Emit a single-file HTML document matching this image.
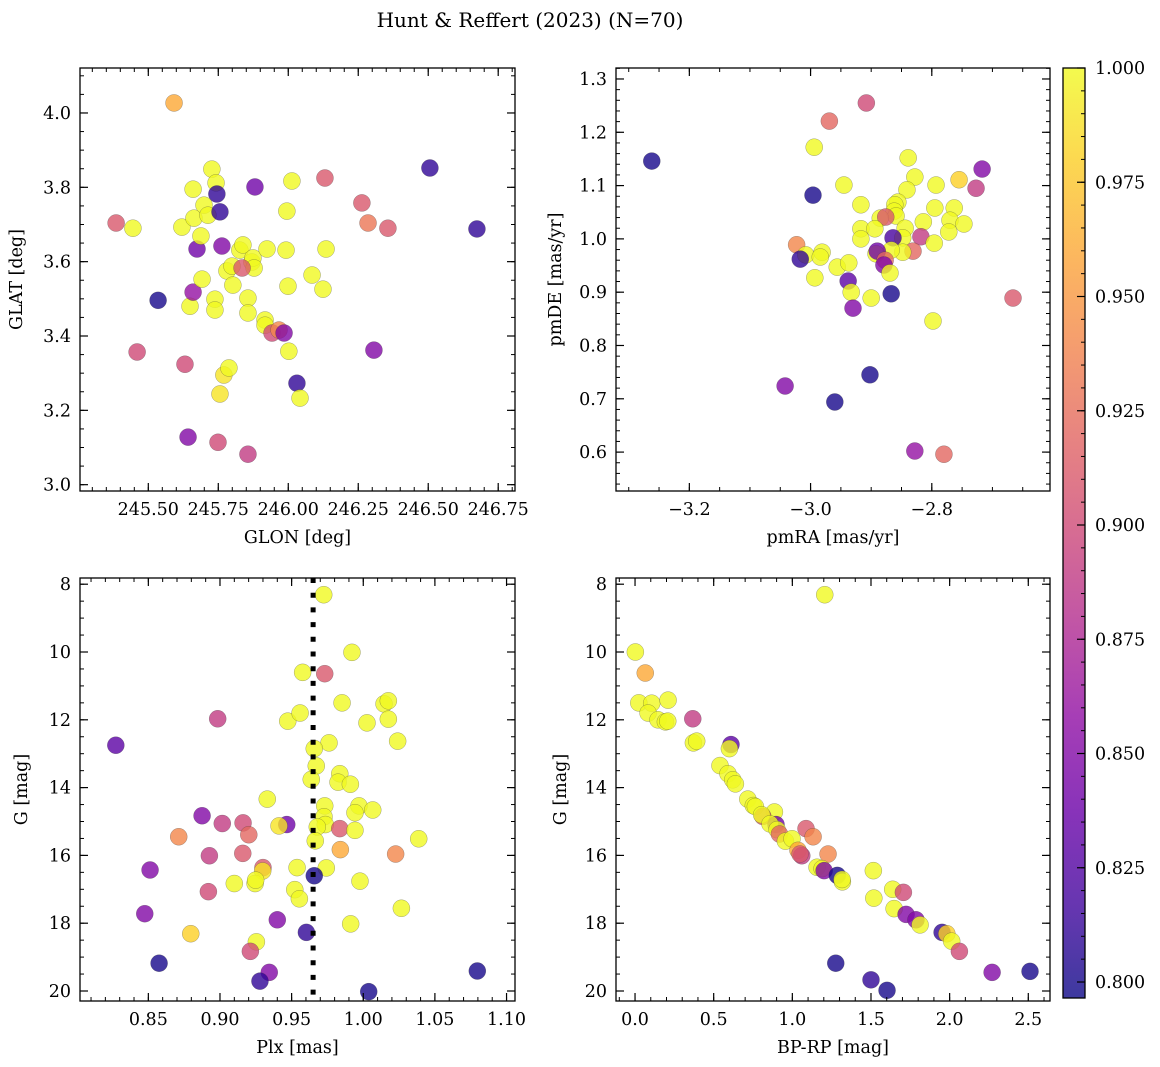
<!DOCTYPE html>
<html><head><meta charset="utf-8"><style>
html,body{margin:0;padding:0;background:#fff;}
svg{display:block;font-family:"DejaVu Serif","Liberation Serif",serif;}
</style></head><body>
<svg id="fig" xmlns="http://www.w3.org/2000/svg" width="1160" height="1067" viewBox="0 0 1160 1067">
<text x="530" y="27" font-size="20" text-anchor="middle">Hunt &amp; Reffert (2023) (N=70)</text>
</svg>
<script>
// ---- Panel 1: GLON / GLAT ----
const glonA=[245.385,245.445,245.460,245.535,245.592,245.620,245.631,245.642,245.649,245.660,245.663,245.660,245.674,245.688,245.692,245.699,245.713,245.727,245.738,245.738,245.742,245.745,245.756,245.756,245.763,245.749,245.770,245.788,245.781,245.799,245.802,245.827,245.838,245.856,245.856,245.856,245.870,245.874,245.878,245.881,245.835,245.917,245.917,245.924,245.942,245.967,245.985,245.992,245.995,245.999,246.002,246.013,246.031,246.042,246.085,246.124,246.135,246.131,246.263,246.285,246.306,246.356,246.506,246.674];
const glatA=[3.704,3.690,3.357,3.496,4.027,3.693,3.324,3.128,3.480,3.795,3.717,3.518,3.634,3.669,3.553,3.752,3.725,3.849,3.499,3.470,3.812,3.782,3.734,3.244,3.642,3.114,3.295,3.314,3.575,3.588,3.537,3.631,3.645,3.502,3.462,3.082,3.599,3.610,3.583,3.801,3.583,3.443,3.429,3.634,3.408,3.416,3.408,3.631,3.736,3.534,3.359,3.817,3.273,3.233,3.564,3.526,3.634,3.825,3.758,3.704,3.362,3.690,3.852,3.688];
const probA=[.91,1,.90,.80,.96,1,.90,.85,1,1,1,.86,.84,1,1,1,1,1,1,1,1,.81,.81,.99,.85,.90,.99,1,1,1,1,1,1,1,1,.89,1,1,1,.84,.91,1,1,1,.90,.94,.85,1,1,1,1,1,.81,1,1,1,1,.91,.91,.93,.85,.91,.81,.81];
// ---- Panel 2: pmRA / pmDE ----
const pmraB=[-3.262,-2.908,-2.969,-2.994,-2.996,-2.945,-2.917,-2.839,-2.828,-2.841,-2.793,-2.755,-2.717,-2.727,-2.795,-2.763,-2.856,-2.861,-2.862,-2.859,-2.885,-2.876,-2.814,-2.770,-2.772,-2.747,-2.844,-2.848,-2.917,-2.917,-2.894,-2.864,-2.818,-2.796,-2.831,-2.848,-2.867,-2.892,-2.890,-2.877,-2.879,-2.869,-3.023,-3.008,-3.017,-2.981,-2.984,-2.956,-2.937,-2.993,-2.938,-2.933,-2.900,-2.867,-2.930,-2.798,-2.666,-3.042,-2.902,-2.960,-2.828,-2.780];
const pmdeB=[1.146,1.255,1.221,1.172,1.082,1.101,1.064,1.152,1.116,1.092,1.101,1.111,1.131,1.095,1.058,1.058,1.069,1.064,1.052,1.043,1.039,1.041,1.032,1.035,1.013,1.028,1.020,1.002,1.019,1.000,1.019,1.002,1.004,0.992,0.977,0.975,0.979,0.972,0.977,0.960,0.951,0.936,0.989,0.970,0.962,0.975,0.966,0.947,0.955,0.927,0.921,0.900,0.889,0.897,0.870,0.846,0.889,0.724,0.745,0.694,0.602,0.596];
const probB=[.80,.90,.92,1,.80,1,1,1,1,1,1,.98,.85,.89,1,1,1,1,1,1,1,.91,1,1,1,1,1,1,1,1,1,.82,.89,1,.92,1,1,1,.84,.92,.85,1,.94,1,.81,1,1,1,1,1,.83,1,1,.80,.85,1,.91,.85,.80,.80,.86,.92];
// ---- Panel 3: Plx / G ----
const plxC=[.9724,.9921,.9577,.9731,.9852,1.0145,1.0175,.8984,.9473,.9559,1.0026,1.0175,.8273,.9761,1.0240,.9658,.9672,.9637,.9836,.9824,.9910,.9330,.9731,.9970,.9942,1.0066,.9726,.9735,.9679,.8875,.9016,.9161,.9466,.9412,.9836,.9942,.9201,.8712,.9665,1.0387,.9840,1.0226,.8926,.9159,.9300,.9298,.9538,.9742,.9658,.8512,.9100,.9245,.9249,.9977,.9522,.9554,.8919,.8475,.9400,1.0266,.8796,.9603,.9912,.9254,.9212,.8575,.9344,.9279,1.0796,1.0038];
const gC=[8.31,10.01,10.60,10.64,11.50,11.53,11.44,11.97,12.04,11.80,12.09,11.98,12.75,12.68,12.63,12.85,13.36,13.76,13.59,13.84,13.90,14.34,14.54,14.54,14.74,14.66,14.86,15.09,15.16,14.83,15.06,15.04,15.09,15.13,15.21,15.26,15.39,15.45,15.57,15.51,15.83,15.96,16.01,15.94,16.36,16.46,16.36,16.37,16.60,16.43,16.83,16.83,16.73,16.76,17.01,17.28,17.07,17.72,17.90,17.56,18.31,18.27,18.02,18.55,18.83,19.18,19.45,19.71,19.41,20.02];
const probC=[1,1,1,.91,1,1,1,.89,1,1,1,1,.83,1,1,1,1,1,1,1,1,1,1,1,1,1,1,1,1,.85,.89,.90,.84,.99,.91,1,.92,.94,1,1,.96,.94,.89,.91,.91,.99,1,1,.80,.85,1,1,1,1,1,1,.90,.85,.85,1,.98,.81,1,1,.90,.80,.85,.81,.80,.80];
const plxRef=[0.965];
// ---- Panel 4: BP-RP / G ----
const bprpD=[1.206,0.002,0.065,0.024,0.106,0.210,0.083,0.146,0.193,0.208,0.367,0.371,0.392,0.610,0.600,0.540,0.591,0.621,0.638,0.717,0.752,0.765,0.886,0.812,0.805,0.896,0.858,0.903,0.918,0.956,0.998,1.087,1.132,1.036,1.060,1.049,1.227,1.157,1.189,1.202,1.286,1.318,1.316,1.515,1.518,1.638,1.706,1.647,1.723,1.786,1.812,1.952,1.982,2.013,2.062,1.276,2.270,2.511,1.500,1.602];
const gD=[8.31,10.00,10.62,11.50,11.51,11.42,11.80,12.00,12.06,12.04,11.97,12.68,12.63,12.73,12.85,13.35,13.59,13.77,13.89,14.34,14.53,14.56,14.72,14.85,14.80,15.09,15.07,15.24,15.37,15.58,15.51,15.21,15.45,15.85,16.01,15.96,15.96,16.35,16.39,16.45,16.59,16.78,16.71,16.45,17.26,17.00,17.09,17.57,17.74,17.90,18.05,18.27,18.31,18.53,18.83,19.18,19.45,19.42,19.67,19.98];
const probD=[1,1,.96,1,1,1,1,1,1,1,.89,1,1,.83,1,1,1,1,1,1,1,1,1,.91,1,.84,1,1,.92,1,1,.91,.94,.96,.89,.91,.94,1,1,.85,.80,1,1,1,1,1,.90,1,.85,.85,1,.81,.98,1,.90,.80,.85,.80,.81,.80];
const cbTicks=[0.800,0.825,0.850,0.875,0.900,0.925,0.950,0.975,1.000];

const NS="http://www.w3.org/2000/svg";
const svg=document.getElementById('fig');
const VMIN=0.7965,VMAX=1.0;
const stops=["#0d0887","#41049d","#6a00a8","#8f0da4","#b12a90","#cc4778","#e16462","#f2844b","#fca636","#fcce25","#f0f921"];
function hex(h){return [parseInt(h.substr(1,2),16),parseInt(h.substr(3,2),16),parseInt(h.substr(5,2),16)];}
function plasma(t){t=Math.max(0,Math.min(1,t));const f=t*10,i=Math.min(9,Math.floor(f)),u=f-i;const a=hex(stops[i]),b=hex(stops[i+1]);return 'rgb('+a.map((v,k)=>Math.round(v+(b[k]-v)*u)).join(',')+')';}
function el(tag,attrs,parent){const e=document.createElementNS(NS,tag);for(const k in attrs)e.setAttribute(k,attrs[k]);(parent||svg).appendChild(e);return e;}
function fmt(v,d){return v.toFixed(d).replace('-','\u2212');}

function panel(cfg){
  const g=el('g',{});
  
  
  const L=cfg.box[0],T=cfg.box[1],R=cfg.box[2],B=cfg.box[3];
  const sx=v=>L+(v-cfg.xd[0])/(cfg.xd[1]-cfg.xd[0])*(R-L);
  const sy=v=>cfg.yinv? T+(v-cfg.yd[0])/(cfg.yd[1]-cfg.yd[0])*(B-T) : B-(v-cfg.yd[0])/(cfg.yd[1]-cfg.yd[0])*(B-T);
  const clip='clip-'+cfg.name;
  const cp=el('clipPath',{id:clip},g);el('rect',{x:L,y:T,width:R-L,height:B-T},cp);
  const pts=el('g',{'clip-path':'url(#'+clip+')'},g);
  
  
  for(let i=0;i<cfg.x.length;i++){
    const c=el('circle',{cx:sx(cfg.x[i]),cy:sy(cfg.y[i]),r:8.5,fill:plasma((cfg.p[i]-VMIN)/(VMAX-VMIN)),'fill-opacity':0.8,stroke:'#333','stroke-width':0.5,'stroke-opacity':0.45},pts);
    
    
  }
  if(cfg.vline){for(const v of cfg.vline){
    const ln=el('line',{x1:sx(v),x2:sx(v),y1:T,y2:B,stroke:'#000','stroke-width':5,'stroke-dasharray':'5,9.7'},pts);
    
    
  }}
  const fr=el('rect',{x:L,y:T,width:R-L,height:B-T,fill:'none',stroke:'#000','stroke-width':1.3},g);
  
  
  const ax=el('g',{},g);
  
  
  const mk=(a,b,step,fn)=>{const s=Math.ceil((a-1e-9)/step);for(let k=s;k*step<=b+1e-9;k++)fn(k*step);};
  const xmn=Math.min(...cfg.xd),xmx=Math.max(...cfg.xd),ymn=Math.min(...cfg.yd),ymx=Math.max(...cfg.yd);
  mk(xmn,xmx,cfg.xminor,v=>{const x=sx(v);el('line',{x1:x,x2:x,y1:B,y2:B-4,stroke:'#000','stroke-width':1},ax);el('line',{x1:x,x2:x,y1:T,y2:T+4,stroke:'#000','stroke-width':1},ax);});
  mk(ymn,ymx,cfg.yminor,v=>{const y=sy(v);el('line',{x1:L,x2:L+4,y1:y,y2:y,stroke:'#000','stroke-width':1},ax);el('line',{x1:R,x2:R-4,y1:y,y2:y,stroke:'#000','stroke-width':1},ax);});
  for(const v of cfg.xt){const x=sx(v);
    el('line',{x1:x,x2:x,y1:B,y2:B-8,stroke:'#000','stroke-width':1.2},ax);el('line',{x1:x,x2:x,y1:T,y2:T+8,stroke:'#000','stroke-width':1.2},ax);
    const t=el('text',{x:x,y:B+24,'font-size':17.5,'text-anchor':'middle'},ax);t.textContent=fmt(v,cfg.xdec);
    
    }
  for(const v of cfg.yt){const y=sy(v);
    el('line',{x1:L,x2:L+8,y1:y,y2:y,stroke:'#000','stroke-width':1.2},ax);el('line',{x1:R,x2:R-8,y1:y,y2:y,stroke:'#000','stroke-width':1.2},ax);
    const t=el('text',{x:L-9,y:y+6,'font-size':17.5,'text-anchor':'end'},ax);t.textContent=fmt(v,cfg.ydec);
    
    }
  const xl=el('text',{x:(L+R)/2,y:B+52,'font-size':17.5,'text-anchor':'middle'},g);xl.textContent=cfg.xlab;
  
  
  const yl=el('text',{x:cfg.ylx,y:(T+B)/2,'font-size':17.5,'text-anchor':'middle',transform:'rotate(-90 '+cfg.ylx+' '+(T+B)/2+')'},g);yl.textContent=cfg.ylab;
  
  
}

panel({name:'glon-glat-panel',box:[80,68,515,491],xd:[245.256,246.810],yd:[2.983,4.121],x:glonA,y:glatA,p:probA,xt:[245.5,245.75,246.0,246.25,246.5,246.75],xdec:2,yt:[3.0,3.2,3.4,3.6,3.8,4.0],ydec:1,xminor:0.05,yminor:0.05,xlab:'GLON [deg]',ylab:'GLAT [deg]',ylx:22});
panel({name:'pm-panel',box:[616,68,1050,491],xd:[-3.321,-2.605],yd:[0.527,1.3206],x:pmraB,y:pmdeB,p:probB,xt:[-3.2,-3.0,-2.8],xdec:1,yt:[0.6,0.7,0.8,0.9,1.0,1.1,1.2,1.3],ydec:1,xminor:0.05,yminor:0.02,xlab:'pmRA [mas/yr]',ylab:'pmDE [mas/yr]',ylx:561});
panel({name:'plx-g-panel',box:[80,578,515,1001],xd:[0.8023,1.1059],yd:[7.817,20.295],yinv:true,x:plxC,y:gC,p:probC,vline:plxRef,xt:[0.85,0.90,0.95,1.00,1.05,1.10],xdec:2,yt:[8,10,12,14,16,18,20],ydec:0,xminor:0.01,yminor:0.5,xlab:'Plx [mas]',ylab:'G [mag]',ylx:27});
panel({name:'cmd-panel',box:[616,578,1050,1001],xd:[-0.121,2.638],yd:[7.817,20.295],yinv:true,x:bprpD,y:gD,p:probD,xt:[0,0.5,1.0,1.5,2.0,2.5],xdec:1,yt:[8,10,12,14,16,18,20],ydec:0,xminor:0.1,yminor:0.5,xlab:'BP-RP [mag]',ylab:'G [mag]',ylx:566});

(function(){
  const L=1063,R=1085,T=68,B=998;
  const cb=el('g',{});
  
  
  const defs=el('defs',{},cb);
  const lg=el('linearGradient',{id:'cbgrad',x1:0,y1:1,x2:0,y2:0},defs);
  stops.forEach((s,i)=>el('stop',{offset:i/10,'stop-color':s},lg));
  el('rect',{x:L,y:T,width:R-L,height:B-T,fill:'url(#cbgrad)','fill-opacity':0.8},cb);
  el('rect',{x:L,y:T,width:R-L,height:B-T,fill:'none',stroke:'#000','stroke-width':1.3},cb);
  const sy=v=>B-(v-VMIN)/(VMAX-VMIN)*(B-T);
  for(let v=0.800;v<=1.0001;v+=0.005){const y=sy(v);el('line',{x1:R,x2:R-4,y1:y,y2:y,stroke:'#000','stroke-width':1},cb);}
  for(const v of cbTicks){const y=sy(v);
    el('line',{x1:R,x2:R-8,y1:y,y2:y,stroke:'#000','stroke-width':1.2},cb);
    const t=el('text',{x:R+10,y:y+6,'font-size':17.5},cb);t.textContent=v.toFixed(3);
    
    }
})();
</script>
</body></html>
